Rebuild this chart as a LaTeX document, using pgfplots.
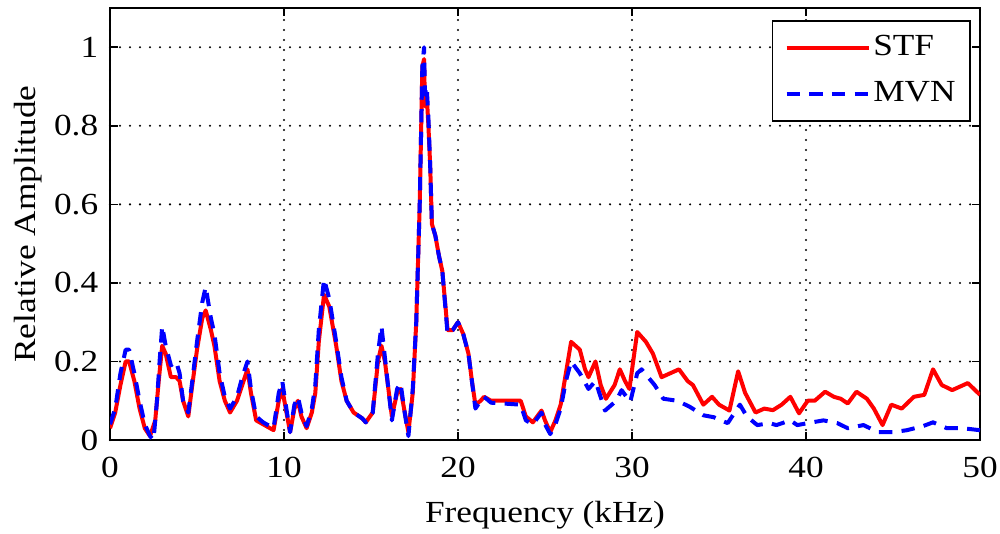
\documentclass[border=0pt]{standalone}
\usepackage{fontspec}
\setmainfont[FakeStretch=1.15]{Liberation Serif}
\usepackage{pgfplots}
\pgfplotsset{compat=1.18}
\begin{document}
\fontsize{23pt}{27pt}\selectfont
\begin{tikzpicture}
\begin{axis}[
  scale only axis,
  width=652.5pt, height=324pt,
  xmin=0, xmax=50, ymin=0, ymax=1.1,
  xtick={0,10,20,30,40,50},
  ytick={0,0.2,0.4,0.6,0.8,1},
  yticklabels={0,0.2,0.4,0.6,0.8,1},
  /pgf/number format/assume math mode=true,
  tick align=inside,
  major tick length=6pt,
  tick style={black, line width=1.2pt},
  axis line style={black, line width=1.5pt},
  grid=major,
  major grid style={black, line width=1.7pt, dash pattern=on 0pt off 7.5pt, line cap=round},
  xticklabel style={yshift=-5pt},
  yticklabel style={xshift=-1pt},
  xlabel={Frequency (kHz)},
  ylabel={Relative Amplitude},
  xlabel style={at={(axis description cs:0.5,0)}, anchor=center, yshift=-56pt},
  ylabel style={at={(axis description cs:0,0.5)}, anchor=center, yshift=61.5pt},
  legend style={draw=black, line width=1.2pt, at={(1,1)}, anchor=north east, xshift=-6.75pt, yshift=-9pt, inner xsep=9pt, inner ysep=9pt, row sep=12pt, font=\fontsize{23pt}{27pt}\selectfont, cells={anchor=west}},
  legend image code/.code={\draw[#1] (0pt,0pt) -- (61.5pt,0pt);},
  legend cell align=left,
]
\addplot[red, line width=3pt, line join=round] coordinates {
(0,0.03) (0.3,0.07) (0.6,0.14) (0.9,0.2) (1.1,0.2) (1.4,0.15) (1.7,0.08) (2.0,0.03) (2.3,0.01)
(2.6,0.05) (2.8,0.15) (3.0,0.24) (3.2,0.22) (3.5,0.16) (3.8,0.16) (4.0,0.15) (4.2,0.1) (4.5,0.06)
(4.7,0.13) (5.0,0.23) (5.3,0.31) (5.5,0.33) (5.8,0.28) (6.0,0.24) (6.3,0.15) (6.6,0.1) (6.9,0.07)
(7.3,0.1) (7.6,0.14) (7.9,0.18) (8.1,0.12) (8.4,0.05) (8.8,0.04) (9.4,0.025) (9.7,0.1) (9.9,0.13)
(10.1,0.08) (10.35,0.02) (10.6,0.08) (10.8,0.1) (11.0,0.06) (11.3,0.03) (11.6,0.07) (11.8,0.12)
(12.0,0.25) (12.3,0.37) (12.6,0.34) (13.0,0.24) (13.3,0.15) (13.6,0.1) (14.0,0.07) (14.5,0.055)
(14.7,0.045) (15.1,0.07) (15.4,0.2) (15.6,0.24) (15.8,0.2) (16.0,0.13) (16.2,0.06) (16.5,0.12)
(16.7,0.13) (16.9,0.08) (17.15,0.02) (17.4,0.12) (17.6,0.3) (17.8,0.6) (17.95,0.95) (18.05,0.97)
(18.1,0.85) (18.2,0.88) (18.3,0.8) (18.4,0.7) (18.5,0.55) (18.7,0.52) (18.9,0.47) (19.1,0.43)
(19.4,0.28) (19.7,0.28) (20.0,0.3) (20.3,0.27) (20.6,0.22) (20.8,0.15) (21.0,0.09) (21.3,0.1)
(21.5,0.11) (21.9,0.1) (23.6,0.1) (23.9,0.06) (24.3,0.045) (24.8,0.075) (25.0,0.05) (25.3,0.02)
(25.6,0.05) (25.9,0.09) (26.2,0.17) (26.5,0.25) (27.0,0.23) (27.3,0.18) (27.5,0.16) (27.9,0.2)
(28.2,0.14) (28.5,0.105) (29.0,0.14) (29.3,0.18) (29.6,0.15) (29.85,0.13) (30.3,0.275) (30.8,0.25)
(31.2,0.22) (31.7,0.16) (32.2,0.17) (32.7,0.18) (33.2,0.15) (33.5,0.14) (34.1,0.09) (34.6,0.11)
(35.0,0.09) (35.6,0.075) (36.1,0.175) (36.5,0.12) (37.1,0.07) (37.6,0.08) (38.1,0.076) (38.6,0.09)
(39.1,0.11) (39.6,0.068) (40.1,0.1) (40.5,0.1) (41.1,0.123) (41.6,0.11) (42.0,0.105) (42.4,0.093)
(42.9,0.123) (43.5,0.105) (43.9,0.08) (44.4,0.038) (44.9,0.09) (45.5,0.08) (46.2,0.11) (46.8,0.115)
(47.3,0.18) (47.8,0.14) (48.4,0.127) (49.3,0.145) (50,0.115)
};
\addlegendentry{STF}
\addplot[blue, line width=3pt, dash pattern=on 10pt off 7pt, line join=round] coordinates {
(0,0.04) (0.3,0.08) (0.6,0.17) (0.9,0.23) (1.1,0.23) (1.4,0.17) (1.7,0.1) (2.0,0.04) (2.3,0.01)
(2.5,0.0) (2.7,0.1) (2.85,0.2) (3.0,0.29) (3.2,0.24) (3.5,0.19) (3.8,0.2) (4.0,0.17) (4.2,0.1) (4.5,0.07)
(4.7,0.14) (5.0,0.25) (5.3,0.35) (5.5,0.39) (5.8,0.31) (6.0,0.27) (6.3,0.17) (6.6,0.11) (6.9,0.08)
(7.3,0.11) (7.6,0.16) (7.9,0.2) (8.1,0.13) (8.4,0.06) (8.8,0.045) (9.4,0.03) (9.7,0.12) (9.9,0.15)
(10.1,0.09) (10.35,0.02) (10.6,0.09) (10.8,0.11) (11.0,0.07) (11.3,0.035) (11.6,0.08) (11.8,0.14)
(12.0,0.28) (12.3,0.41) (12.6,0.36) (13.0,0.25) (13.3,0.16) (13.6,0.1) (14.0,0.07) (14.5,0.055)
(14.7,0.045) (15.1,0.07) (15.4,0.22) (15.6,0.29) (15.8,0.21) (16.0,0.13) (16.2,0.05) (16.5,0.13)
(16.7,0.145) (16.9,0.08) (17.15,0.01) (17.4,0.13) (17.6,0.3) (17.8,0.6) (17.95,0.95) (18.05,1.0)
(18.1,0.88) (18.2,0.9) (18.3,0.82) (18.4,0.7) (18.5,0.55) (18.7,0.52) (18.9,0.47) (19.1,0.43)
(19.4,0.27) (19.7,0.28) (20.0,0.3) (20.3,0.27) (20.6,0.22) (20.8,0.15) (21.0,0.08) (21.3,0.1)
(21.5,0.11) (21.9,0.095) (23.6,0.09) (23.9,0.05) (24.3,0.04) (24.8,0.07) (25.0,0.04) (25.3,0.015)
(25.6,0.04) (25.9,0.08) (26.2,0.15) (26.5,0.2) (27.0,0.17) (27.5,0.13) (27.9,0.15) (28.45,0.075)
(29.1,0.1) (29.4,0.127) (29.9,0.097) (30.3,0.17) (30.55,0.18) (31.3,0.14) (31.8,0.105) (32.6,0.1)
(33.3,0.085) (34.1,0.063) (34.7,0.058) (35.5,0.043) (36.2,0.09) (36.6,0.06) (37.2,0.038) (37.9,0.043)
(38.3,0.038) (39.1,0.05) (39.5,0.038) (40.1,0.043) (41.0,0.05) (41.8,0.043) (42.4,0.03) (43.3,0.038)
(44.15,0.02) (45.0,0.02) (45.8,0.025) (46.7,0.035) (47.3,0.045) (48.1,0.03) (49.0,0.03) (50,0.025)
};
\addlegendentry{MVN}
\end{axis}
\pgfresetboundingbox
\path ([xshift=-82.5pt,yshift=-69.75pt]current axis.south west) rectangle ([xshift=15pt,yshift=6pt]current axis.north east);
\end{tikzpicture}
\end{document}
